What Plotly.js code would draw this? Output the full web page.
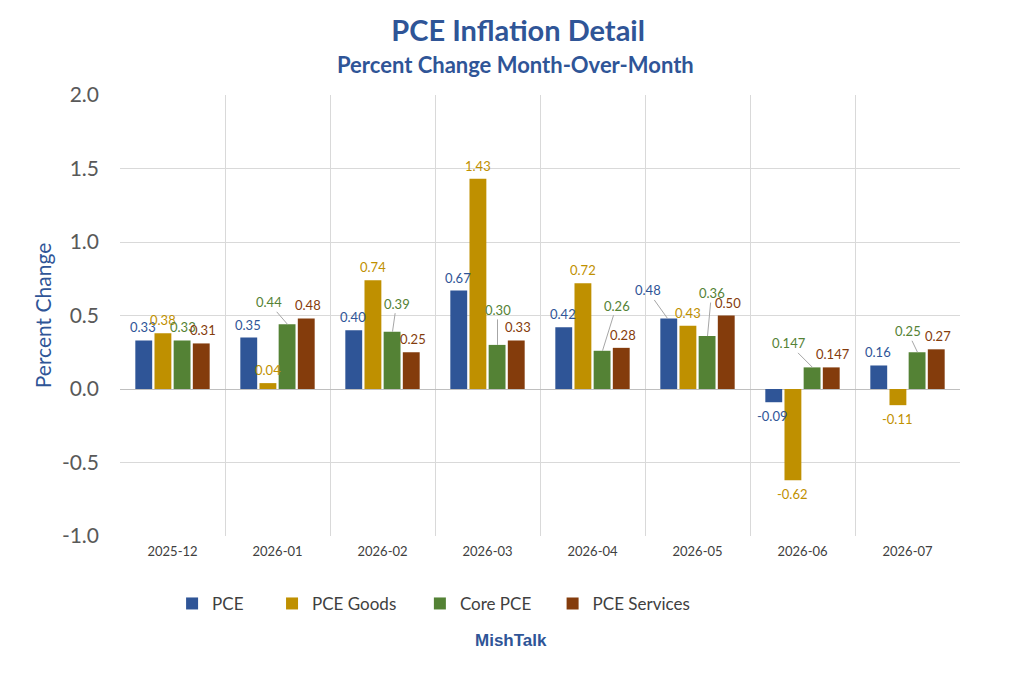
<!DOCTYPE html>
<html>
<head>
<meta charset="utf-8">
<script src="https://cdn.plot.ly/plotly-3.0.1.min.js"></script>
<style>
  html, body { margin: 0; padding: 0; background: #fff; }
  #chart { width: 1024px; height: 676px; }
</style>
</head>
<body>
<div id="chart"></div>
<script>
const months = ["2025-12", "2026-01", "2026-02", "2026-03", "2026-04", "2026-05", "2026-06", "2026-07"];

const pce = [0.33, 0.35, 0.40, 0.67, 0.42, 0.48, -0.09, 0.16];
const pceGoods = [0.38, 0.04, 0.74, 1.43, 0.72, 0.43, -0.62, -0.11];
const corePce = [0.33, 0.44, 0.39, 0.30, 0.26, 0.36, 0.147, 0.25];
const pceServices = [0.31, 0.48, 0.25, 0.33, 0.28, 0.50, 0.147, 0.27];

const yTickVals = [-1, -0.5, 0, 0.5, 1, 1.5, 2];
const yTickText = ["-1.0", "-0.5", "0.0", "0.5", "1.0", "1.5", "2.0"];

const FONT = "Lato, 'Open Sans', sans-serif";
const BLUE = "#2F5597";

const series = [
  { name: "PCE", values: pce, color: "#2F5597", legend: "legend" },
  { name: "PCE Goods", values: pceGoods, color: "#BF9000", legend: "legend2" },
  { name: "Core PCE", values: corePce, color: "#548235", legend: "legend3" },
  { name: "PCE Services", values: pceServices, color: "#843C0C", legend: "legend4" },
];

// Labels that were dragged away from their bar and get a leader line:
// [series index, month index, dx, dy] with dx/dy in pixels from the bar end.
const movedLabels = [
  [2, 1, -19, -22],
  [2, 2, 4, -28],
  [2, 3, 0, -35],
  [2, 4, 14, -45],
  [0, 5, -20, -28],
  [2, 5, 4, -43],
  [2, 6, -24, -24],
  [2, 7, -10, -21],
];

// pixel distance between bars of one group
const slot = 20;
const slotShift = (si) => (si - (series.length - 1) / 2) * slot;

// two decimals, unless the value was reported with three
const fmt = (v) => (Math.round(v * 1000) % 10 !== 0 ? v.toFixed(3) : v.toFixed(2));

const findMoved = (si, mi) => movedLabels.find((m) => m[0] == si && m[1] == mi);

const traces = series.map((s) => ({
  type: "bar",
  name: s.name,
  x: months,
  y: s.values,
  marker: { color: s.color },
  cliponaxis: false,
  hoverinfo: "x+y+name",
  legend: s.legend,
}));

// Value labels as annotations so they sit above every bar, like Excel draws them.
const valueNotes = [];
series.forEach((s, si) => {
  s.values.forEach((v, mi) => {
    const note = {
      x: months[mi],
      y: v,
      xref: "x",
      yref: "y",
      xshift: slotShift(si),
      text: fmt(v),
      font: { family: FONT, size: 13, color: s.color },
    };
    const moved = findMoved(si, mi);
    if (moved) {
      Object.assign(note, {
        showarrow: true,
        arrowhead: 0,
        arrowwidth: 1,
        arrowcolor: "#A6A6A6",
        standoff: 0,
        ax: moved[2],
        ay: moved[3],
      });
    } else {
      Object.assign(note, {
        showarrow: false,
        yanchor: v >= 0 ? "bottom" : "top",
        yshift: v >= 0 ? 3 : -4,
      });
    }
    valueNotes.push(note);
  });
});

const legendBase = {
  orientation: "h",
  y: -0.154,
  yanchor: "middle",
  xanchor: "left",
  bgcolor: "rgba(0,0,0,0)",
  font: { family: FONT, size: 17, color: "#404040" },
  itemwidth: 30,
};

const layout = {
  width: 1024,
  height: 676,
  paper_bgcolor: "#ffffff",
  plot_bgcolor: "#ffffff",
  margin: { l: 120, r: 64, t: 95, b: 140 },
  font: { family: FONT, color: "#404040" },
  title: {
    text: "<b>PCE Inflation Detail</b>",
    font: { family: FONT, size: 29, color: BLUE },
    x: 0.506,
    xref: "container",
    xanchor: "center",
    y: 0.955,
    yref: "container",
    yanchor: "middle",
  },
  barmode: "group",
  bargap: 0.27,
  bargroupgap: 0.12,
  xaxis: {
    type: "category",
    tickson: "boundaries",
    showgrid: true,
    gridcolor: "#D9D9D9",
    gridwidth: 1,
    ticks: "",
    showline: false,
    zeroline: false,
    ticklabelstandoff: 6,
    tickfont: { family: FONT, size: 13, color: "#404040" },
    fixedrange: true,
  },
  yaxis: {
    range: [-1, 2],
    tickvals: yTickVals,
    ticktext: yTickText,
    showgrid: true,
    gridcolor: "#D9D9D9",
    gridwidth: 1,
    zeroline: true,
    zerolinecolor: "#BFBFBF",
    zerolinewidth: 1,
    showline: false,
    ticks: "",
    ticklabelstandoff: 20,
    tickfont: { family: FONT, size: 21, color: "#595959" },
    title: {
      text: "Percent Change",
      font: { family: FONT, size: 21, color: BLUE },
      standoff: 4,
    },
    automargin: false,
    fixedrange: true,
  },
  legend: Object.assign({}, legendBase, { x: 0.062 }),
  legend2: Object.assign({}, legendBase, { x: 0.181 }),
  legend3: Object.assign({}, legendBase, { x: 0.357 }),
  legend4: Object.assign({}, legendBase, { x: 0.515 }),
  annotations: [
    {
      text: "<b>Percent Change Month-Over-Month</b>",
      xref: "paper",
      yref: "paper",
      x: 0.471,
      y: 1.07,
      xanchor: "center",
      yanchor: "middle",
      showarrow: false,
      font: { family: FONT, size: 22, color: BLUE },
    },
    {
      text: "<b>MishTalk</b>",
      xref: "paper",
      yref: "paper",
      x: 0.465,
      y: -0.236,
      xanchor: "center",
      yanchor: "middle",
      showarrow: false,
      font: { family: "'Liberation Sans', Arial, sans-serif", size: 17, color: BLUE },
    },
  ].concat(valueNotes),
  showlegend: true,
};

const config = { displayModeBar: false, responsive: false };

Plotly.newPlot("chart", traces, layout, config);
</script>
</body>
</html>
